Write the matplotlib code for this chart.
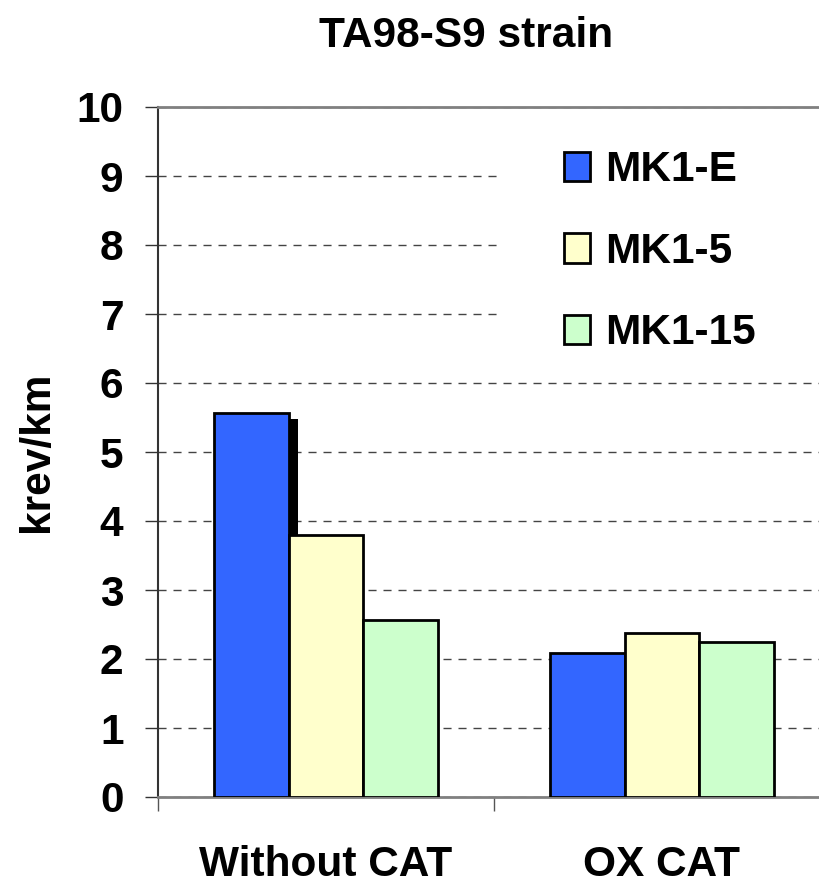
import matplotlib
matplotlib.use("Agg")
import matplotlib.pyplot as plt
from matplotlib.patches import Patch, Rectangle
import numpy as np

# ── Data ──────────────────────────────────────────────────────────────────────
CATEGORIES = ["Without CAT", "OX CAT"]
SERIES = ["MK1-E", "MK1-5", "MK1-15"]
MK1_E = [5.57, 2.09]
MK1_5 = [3.80, 2.38]
MK1_15 = [2.56, 2.25]
SHADOW = [5.48]          # dark shadow strip behind the first blue bar
Y_TICKS = list(range(0, 11))

COLORS = ["#3366FF", "#FFFFCC", "#CCFFCC"]
FS = 30.5

plt.rcParams["font.family"] = ["Liberation Sans", "DejaVu Sans"]
plt.rcParams["font.weight"] = "bold"

fig = plt.figure(figsize=(8.2, 8.89), dpi=100)
ax = fig.add_axes([158 / 820, 92 / 889, 672 / 820, 690 / 889])

x = np.arange(len(CATEGORIES)) + 0.5
w = 0.222
values = [MK1_E, MK1_5, MK1_15]

# shadow strip sits just right of the first blue bar, under the yellow one
ax.bar(x[:1] - w / 2, SHADOW, width=0.027, align="edge", color="black",
       linewidth=0, zorder=2)

for i, (vals, col) in enumerate(zip(values, COLORS)):
    ax.bar(x + (i - 1) * w, vals, width=w, color=col, edgecolor="black",
           linewidth=2.0, zorder=3)

ax.set_xlim(0, 2)
ax.set_ylim(0, 10)

# grid
ax.set_axisbelow(True)
ax.yaxis.grid(True, color="#444444", linewidth=1.0, linestyle=(0, (5.8, 5.0)))
ax.xaxis.grid(False)

# white area behind legend hides the upper gridlines
ax.add_patch(Rectangle((1.027, 6.3), 1.0, 3.55, facecolor="white",
                       edgecolor="none", zorder=1))

# y axis
ax.set_yticks(Y_TICKS)
ax.set_yticklabels([str(t) for t in Y_TICKS], fontsize=FS, fontweight="bold")
ax.tick_params(axis="y", direction="out", length=9.4, width=1.0,
               color="#333333", pad=15.5)

# x axis: boundary ticks without labels, labels at group centres
ax.set_xticks([0, 1, 2])
ax.set_xticklabels([])
ax.tick_params(axis="x", which="major", direction="out", length=10,
               width=1.0, color="#555555")
ax.set_xticks(x, minor=True)
ax.set_xticklabels(CATEGORIES, minor=True, fontsize=FS, fontweight="bold")
ax.tick_params(axis="x", which="minor", length=0, pad=34.5)

ax.set_ylabel("krev/km", fontsize=FS, fontweight="bold")
ax.yaxis.set_label_coords(-0.150, 0.5)

for side in ["top", "bottom", "right"]:
    ax.spines[side].set_color("#808080")
    ax.spines[side].set_linewidth(2.0)
ax.spines["left"].set_color("#333333")
ax.spines["left"].set_linewidth(1.5)

handles = [Patch(facecolor=c, edgecolor="black", linewidth=2.0) for c in COLORS]
leg = ax.legend(handles, SERIES, loc="upper left",
                bbox_to_anchor=(0.604, 0.937), frameon=False,
                prop={"weight": "bold", "size": FS},
                handlelength=0.62, handleheight=0.7, handletextpad=0.35,
                labelspacing=0.98, borderpad=0, borderaxespad=0)

fig.text(466 / 820, 1 - 47 / 889, "TA98-S9 strain", ha="center",
         va="baseline", fontsize=FS, fontweight="bold")

fig.savefig("out.png", dpi=100)
